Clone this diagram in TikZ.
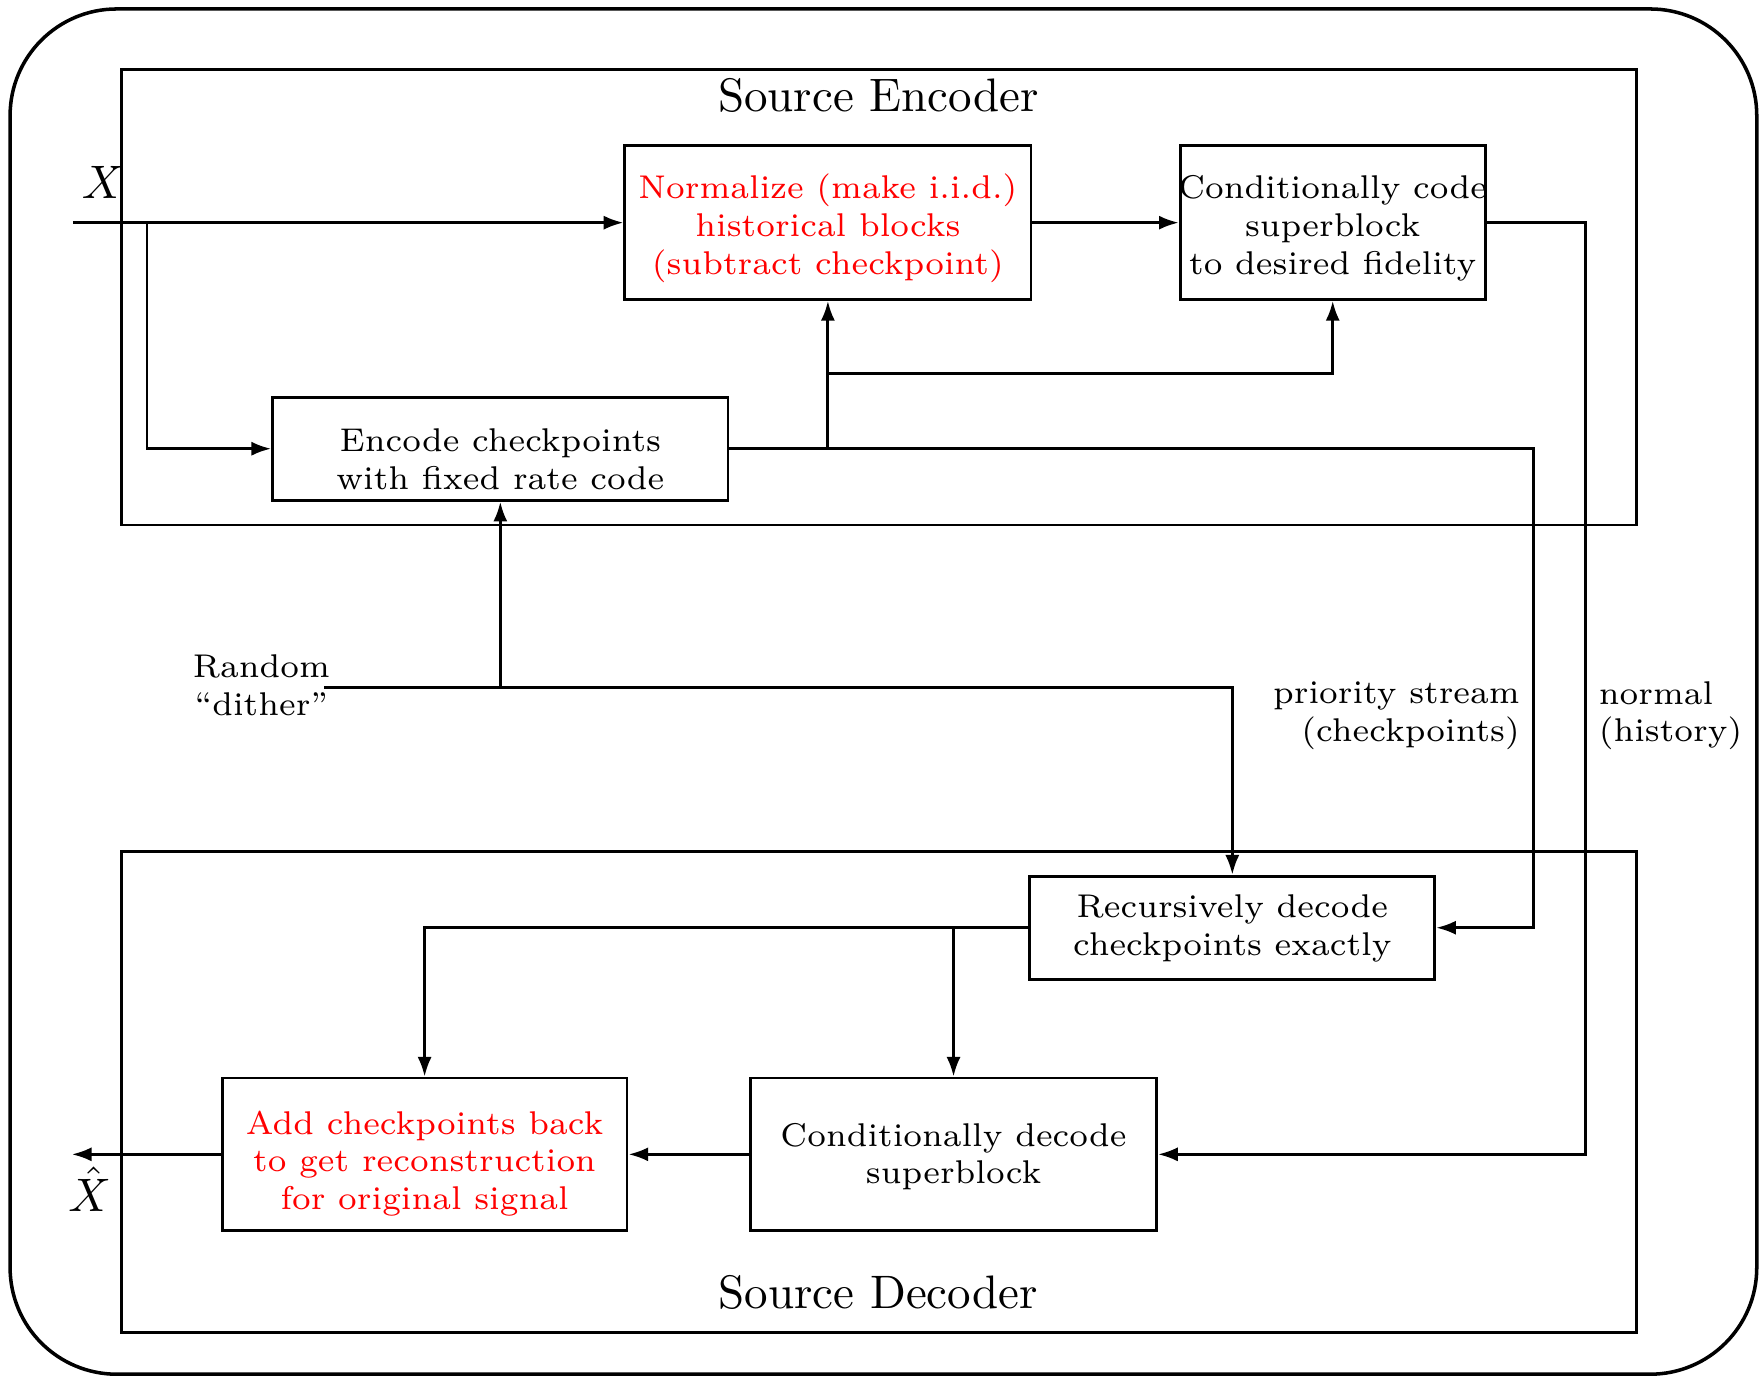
\documentclass[tikz,border=0pt]{standalone}
\usetikzlibrary{arrows.meta}
\begin{document}
\begin{tikzpicture}[x=0.2388pt,y=-0.2388pt,
  line width=0.6pt,
  box/.style={draw, rectangle, inner sep=0pt},
  txt/.style={inner sep=0pt, align=center, font=\scriptsize},
  frame/.style={draw, rectangle, inner sep=0pt},
  arr/.style={-{Latex[length=4.2pt,width=3pt]}},
  lbl/.style={inner sep=0pt, font=\scriptsize}]
\useasboundingbox (0,0) rectangle (1568,1227);
\draw[line width=0.75pt, rounded corners=22.7pt] (9,8) rectangle (1566,1225);

% frames
\draw (108,62) rectangle (1459,468);
\node[inner sep=0pt] (enct) at (783,85) {Source Encoder};
\draw (108,759) rectangle (1459,1188);
\node[inner sep=0pt] (dect) at (783,1152) {Source Decoder};

% boxes
\node[box, minimum width=86.45pt, minimum height=32.72pt] (norm) at (738,198.5) {};
\node[txt, text=red] (normt) at ([yshift=-1.2pt]norm.center) {Normalize (make i.i.d.)\\historical blocks\\(subtract checkpoint)};
\node[box, minimum width=64.95pt, minimum height=32.72pt] (ccode) at (1188,198.5) {};
\node[txt] (ccodet) at ([yshift=-1.2pt]ccode.center) {Conditionally code\\superblock\\to desired fidelity};
\node[box, minimum width=96.95pt, minimum height=21.97pt] (encc) at (446,400) {};
\node[txt] (encct) at ([yshift=-2.2pt]encc.center) {Encode checkpoints\\with fixed rate code};
\node[box, minimum width=86.2pt, minimum height=21.97pt] (recd) at (1098.5,827) {};
\node[txt] (recdt) at ([yshift=-0.2pt]recd.center) {Recursively decode\\checkpoints exactly};
\node[box, minimum width=86.2pt, minimum height=32.48pt] (addc) at (378.5,1029) {};
\node[txt, text=red] (addct) at ([yshift=-1.9pt]addc.center) {Add checkpoints back\\to get reconstruction\\for original signal};
\node[box, minimum width=86.45pt, minimum height=32.48pt] (cdec) at (850,1029) {};
\node[txt] (cdect) at ([yshift=-0.5pt]cdec.center) {Conditionally decode\\superblock};

% labels
\node[inner sep=0pt] (xl) at (92,163) {$X$};
\node[inner sep=0pt] (xhl) at (80,1060) {$\hat{X}$};
\node[lbl, align=center] (dl) at (233,611) {Random\\``dither''};
\node[lbl, align=right, anchor=east] (pl) at (1356,638) {priority stream\\(checkpoints)};
\node[lbl, align=left, anchor=west] (nl) at (1424,638) {normal\\(history)};

% coordinates
\coordinate (xin) at (65,198.5);
\coordinate (b1) at (131,198.5);
\coordinate (p1) at (1367,400);
\coordinate (b3) at (738,333);
\coordinate (p2) at (1413,198.5);
\coordinate (dith) at (289,613);
\coordinate (xout) at (64,1029);

% encoder connectors
\draw[arr] (xin) -- (xin -| norm.west);
\draw[arr] (b1) |- (encc.west);
\draw[arr] (norm.east) -- (ccode.west);
\draw[arr] (encc.east) -- (p1) |- (recd.east);
\draw[arr] (norm.south |- encc.east) -- (norm.south);
\draw[arr] (norm.south |- b3) -| (ccode.south);
\draw[arr] (ccode.east) -- (p2) |- (cdec.east);
\draw[arr] (dith) -| (recd.north);
\draw[arr] (encc.south |- dith) -- (encc.south);

% decoder connectors
\draw[arr] (recd.west) -| (addc.north);
\draw[arr] (cdec.north |- recd.west) -- (cdec.north);
\draw[arr] (cdec.west) -- (addc.east);
\draw[arr] (addc.west) -- (xout |- addc.west);
\end{tikzpicture}
\end{document}
